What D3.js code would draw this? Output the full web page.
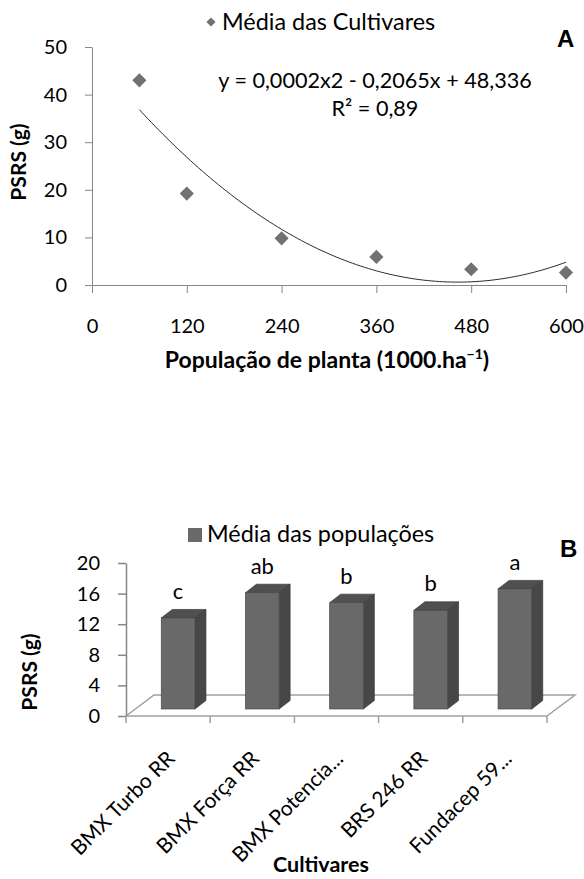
<!DOCTYPE html>
<html>
<head>
<meta charset="utf-8">
<script src="https://cdn.jsdelivr.net/npm/d3@7"></script>
<style>
  body { margin: 0; background: #fff; }
  text { font-family: Lato, "Open Sans", sans-serif; fill: #000; }
  .axis .domain, .axis line { stroke: #868686; }
  .axis text { font-size: 20px; fill: #000; font-family: Lato, "Open Sans", sans-serif; }
  .bold { font-weight: bold; }
</style>
</head>
<body>
<div id="chart"></div>
<script>
// chart A: mean of the cultivars per plant population
const populations = [60, 120, 240, 360, 480, 600];
const psrsByPopulation = [43.0, 19.2, 9.8, 5.9, 3.3, 2.6];
const xTicksA = [0, 120, 240, 360, 480, 600];
const yTicksA = [0, 10, 20, 30, 40, 50];
const equationText = "y = 0,0002x2 - 0,2065x + 48,336";
const r2Text = "R² = 0,89";

// chart B: mean of the populations per cultivar
const cultivars = ["BMX Turbo RR", "BMX Força RR", "BMX Potencia...", "BRS 246 RR", "Fundacep 59..."];
const psrsByCultivar = [11.9, 15.2, 13.9, 12.9, 15.7];
const letters = ["c", "ab", "b", "b", "a"];
const yTicksB = [0, 4, 8, 12, 16, 20];

const svg = d3.select("#chart").append("svg")
    .attr("width", 584)
    .attr("height", 879);

// ---------- A ----------
const x = d3.scaleLinear().domain([0, 600]).range([92, 566]);
const y = d3.scaleLinear().domain([0, 50]).range([285, 47]);

svg.append("g")
    .attr("class", "axis")
    .attr("transform", "translate(0,285)")
    .call(d3.axisBottom(x).tickValues(xTicksA).tickSize(8).tickSizeOuter(0).tickPadding(26));

svg.append("g")
    .attr("class", "axis")
    .attr("transform", "translate(92,0)")
    .call(d3.axisLeft(y).tickValues(yTicksA).tickSize(7).tickSizeOuter(0).tickPadding(18));

// polynomial trendline (order 2), least squares on the points
function quadFit(xs, ys) {
    let s = [0, 0, 0, 0, 0], t = [0, 0, 0];
    xs.forEach((xi, i) => {
        for (let k = 0; k < 5; k++) s[k] += Math.pow(xi, k);
        for (let k = 0; k < 3; k++) t[k] += Math.pow(xi, k) * ys[i];
    });
    const m = [[s[0], s[1], s[2], t[0]], [s[1], s[2], s[3], t[1]], [s[2], s[3], s[4], t[2]]];
    for (let i = 0; i < 3; i++) {
        for (let j = i + 1; j < 3; j++) {
            const f = m[j][i] / m[i][i];
            for (let k = i; k < 4; k++) m[j][k] -= f * m[i][k];
        }
    }
    const c = [0, 0, 0];
    for (let i = 2; i >= 0; i--) {
        let v = m[i][3];
        for (let k = i + 1; k < 3; k++) v -= m[i][k] * c[k];
        c[i] = v / m[i][i];
    }
    return xv => c[0] + c[1] * xv + c[2] * xv * xv;
}
const trend = quadFit(populations, psrsByPopulation);
const trendX = d3.range(d3.min(populations), d3.max(populations) + 1, 5);

svg.append("path")
    .datum(trendX)
    .attr("fill", "none")
    .attr("stroke", "#2b2b2b")
    .attr("stroke-width", 1)
    .attr("d", d3.line().x(d => x(d)).y(d => y(trend(d))));

const diamond = d3.symbol().type(d3.symbolSquare).size(100);
svg.selectAll("path.pt")
    .data(populations)
    .enter()
    .append("path")
    .attr("class", "pt")
    .attr("d", diamond)
    .attr("fill", "#717171")
    .attr("transform", (d, i) => `translate(${x(d)},${y(psrsByPopulation[i])}) rotate(45)`);

// legend A
svg.append("path")
    .attr("d", d3.symbol().type(d3.symbolSquare).size(42))
    .attr("fill", "#717171")
    .attr("transform", "translate(211,22) rotate(45)");
svg.append("text").attr("x", 222).attr("y", 30).attr("font-size", 23.4).text("Média das Cultivares");

svg.append("text").attr("x", 375).attr("y", 88).attr("text-anchor", "middle")
    .attr("font-size", 21.6).text(equationText);
svg.append("text").attr("x", 375).attr("y", 116).attr("text-anchor", "middle")
    .attr("font-size", 21.6).text(r2Text);

svg.append("text").attr("x", 557).attr("y", 47).attr("class", "bold")
    .style("font-family", "Arial, 'Liberation Sans', sans-serif")
    .attr("font-size", 24).text("A");

const xLabel = svg.append("text").attr("class", "bold").attr("x", 327).attr("y", 368)
    .attr("text-anchor", "middle").attr("font-size", 23);
xLabel.append("tspan").text("População de planta (1000.ha");
xLabel.append("tspan").attr("dy", -9).attr("font-size", 14).text("−1");
xLabel.append("tspan").attr("dy", 9).text(")");

svg.append("text").attr("class", "bold").attr("font-size", 21)
    .attr("text-anchor", "middle")
    .attr("transform", "translate(26,162) rotate(-90)")
    .text("PSRS (g)");

// ---------- B ----------
const xB = d3.scaleBand().domain(cultivars).range([126, 547]);
const yB = d3.scaleLinear().domain([0, 20]).range([716, 563]);
const floorDepth = [28, -21];
const barShift = [10, -7];
const barDepth = [11, -8.5];
const bw = xB.bandwidth();
const barW = bw * 0.4;

const [fx0, fx1] = xB.range();
svg.append("path")
    .attr("fill", "none")
    .attr("stroke", "#a0a0a0")
    .attr("stroke-width", 1.5)
    .attr("d", d3.line()([
        [fx0, yB(0)], [fx0 + floorDepth[0], yB(0) + floorDepth[1]],
        [fx1 + floorDepth[0], yB(0) + floorDepth[1]], [fx1, yB(0)]
    ]));

const yAxisB = svg.append("g")
    .attr("class", "axis")
    .attr("transform", `translate(${fx0},0)`)
    .call(d3.axisLeft(yB).tickValues(yTicksB).tickSize(8).tickSizeOuter(0).tickPadding(18));
yAxisB.selectAll(".domain, line").attr("stroke", "#a0a0a0").attr("stroke-width", 1.5);

svg.append("line")
    .attr("x1", fx0).attr("x2", fx1).attr("y1", yB(0)).attr("y2", yB(0))
    .attr("stroke", "#a0a0a0").attr("stroke-width", 1.5);
svg.selectAll("line.xtick")
    .data(cultivars.map(c => xB(c)).concat([fx1]))
    .enter()
    .append("line")
    .attr("class", "xtick")
    .attr("x1", d => d).attr("x2", d => d)
    .attr("y1", yB(0)).attr("y2", yB(0) + 7)
    .attr("stroke", "#a0a0a0").attr("stroke-width", 1.5);

const bars = svg.selectAll("g.bar")
    .data(cultivars)
    .enter()
    .append("g")
    .attr("class", "bar");

const bx = c => xB(c) + (bw - barW) / 2 + barShift[0];
const btop = (i) => yB(psrsByCultivar[i]) + barShift[1];
const bbot = yB(0) + barShift[1];

bars.append("path")
    .attr("fill", "#474747").attr("stroke", "#3a3a3a").attr("stroke-width", 0.7)
    .attr("d", (c, i) => d3.line()([
        [bx(c) + barW, btop(i)], [bx(c) + barW + barDepth[0], btop(i) + barDepth[1]],
        [bx(c) + barW + barDepth[0], bbot + barDepth[1]], [bx(c) + barW, bbot]
    ]) + "Z");
bars.append("path")
    .attr("fill", "#505050").attr("stroke", "#3a3a3a").attr("stroke-width", 0.7)
    .attr("d", (c, i) => d3.line()([
        [bx(c), btop(i)], [bx(c) + barDepth[0], btop(i) + barDepth[1]],
        [bx(c) + barW + barDepth[0], btop(i) + barDepth[1]], [bx(c) + barW, btop(i)]
    ]) + "Z");
bars.append("rect")
    .attr("x", c => bx(c))
    .attr("y", (c, i) => btop(i))
    .attr("width", barW)
    .attr("height", (c, i) => bbot - btop(i))
    .attr("fill", "#696969").attr("stroke", "#4a4a4a").attr("stroke-width", 0.7);

bars.append("text")
    .attr("x", c => bx(c) + barW / 2)
    .attr("y", (c, i) => btop(i) - 19)
    .attr("text-anchor", "middle")
    .attr("font-size", 22)
    .text((c, i) => letters[i]);

svg.selectAll("text.cat")
    .data(cultivars)
    .enter()
    .append("text")
    .attr("class", "cat")
    .attr("font-size", 21)
    .attr("text-anchor", "end")
    .attr("transform", c => `translate(${xB(c) + bw / 2 + 8},760) rotate(-45)`)
    .text(c => c);

// legend B
svg.append("rect").attr("x", 188).attr("y", 528).attr("width", 14).attr("height", 14).attr("fill", "#696969");
svg.append("text").attr("x", 207).attr("y", 542).attr("font-size", 23.4).text("Média das populações");

svg.append("text").attr("x", 560).attr("y", 557).attr("class", "bold")
    .style("font-family", "Arial, 'Liberation Sans', sans-serif")
    .attr("font-size", 24).text("B");

svg.append("text").attr("class", "bold").attr("x", 321).attr("y", 872)
    .attr("text-anchor", "middle").attr("font-size", 21.5).text("Cultivares");

svg.append("text").attr("class", "bold").attr("font-size", 21)
    .attr("text-anchor", "middle")
    .attr("transform", "translate(37,672) rotate(-90)")
    .text("PSRS (g)");
</script>
</body>
</html>
